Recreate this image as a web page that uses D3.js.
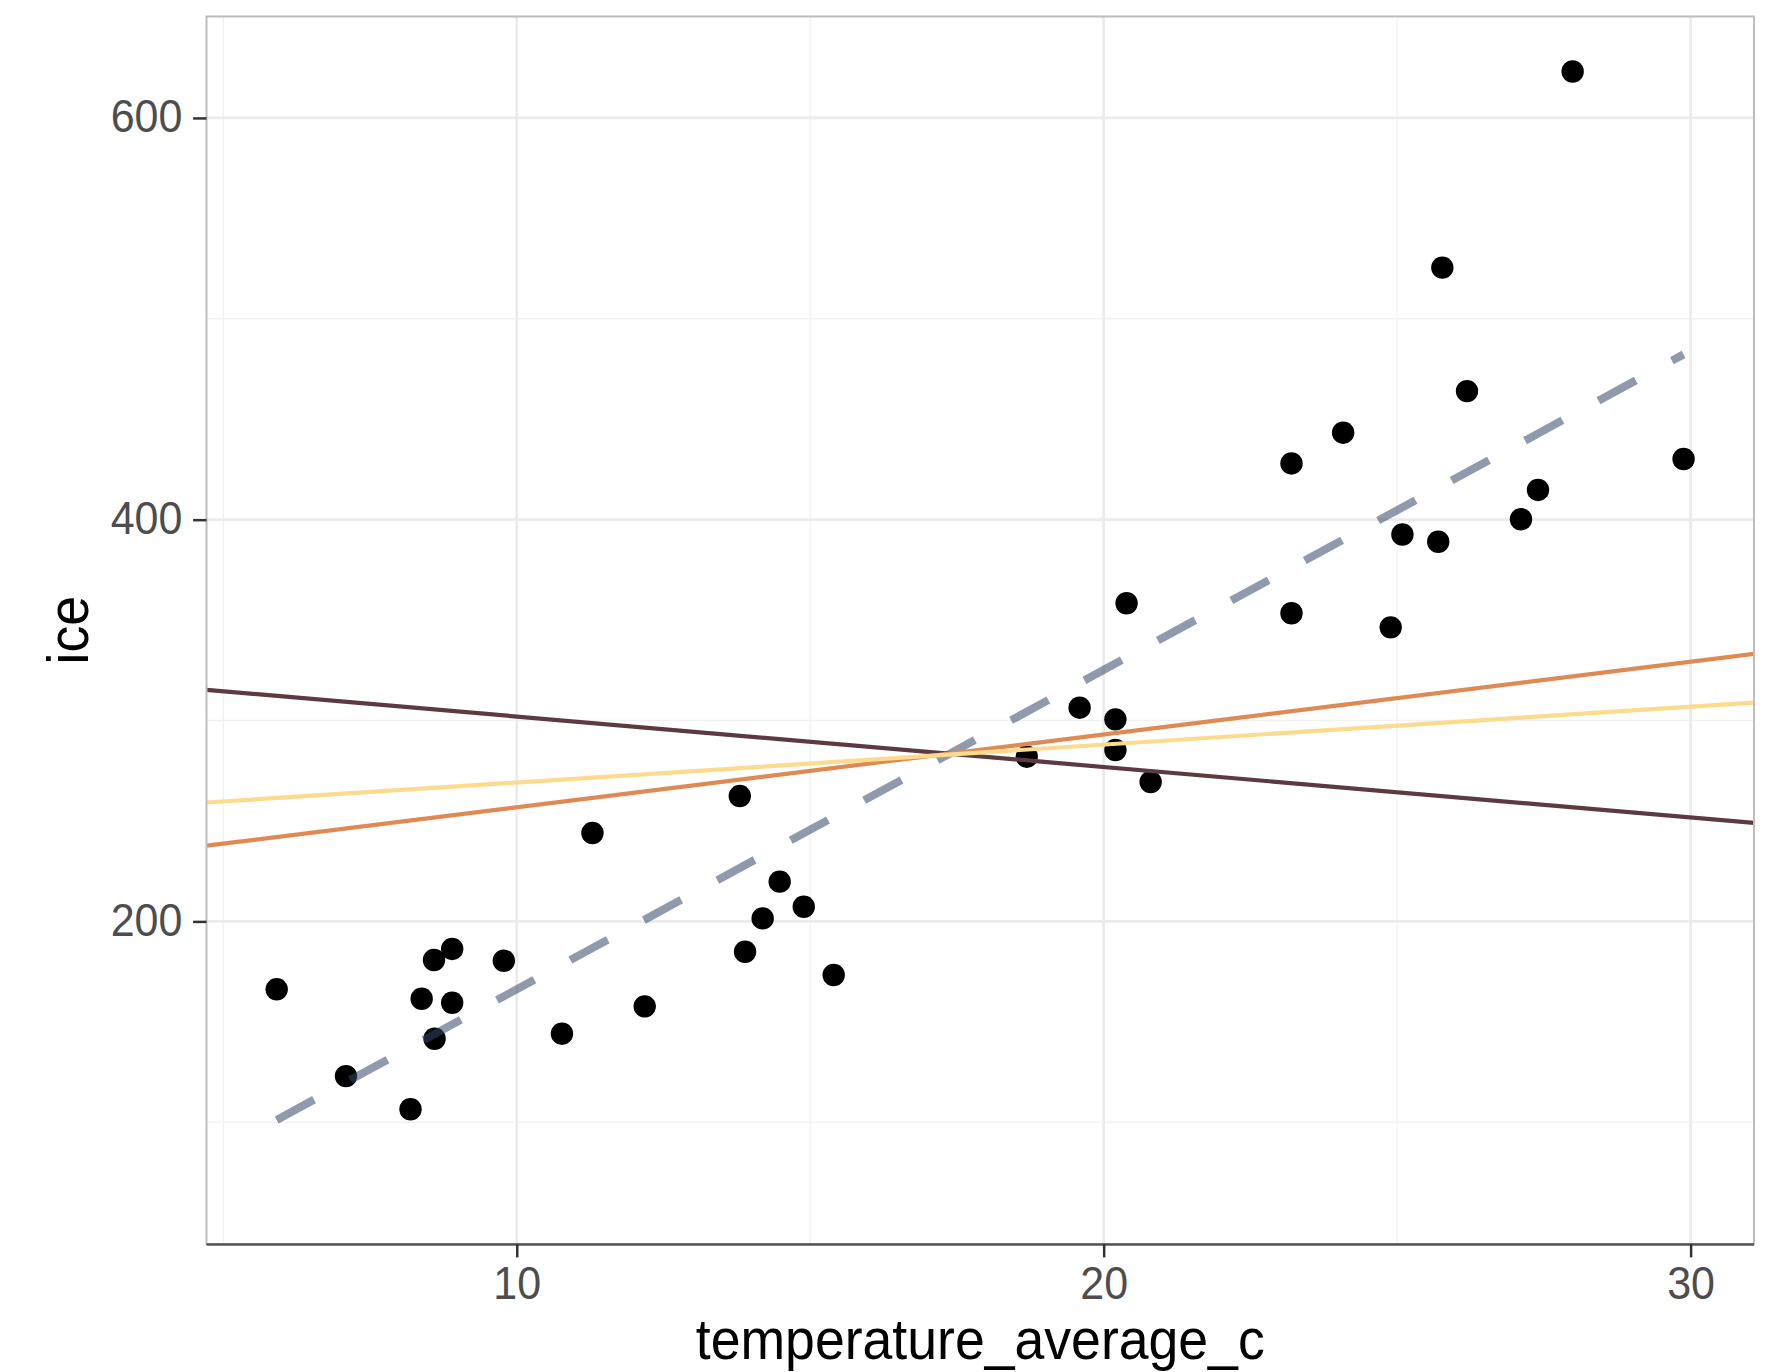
<!DOCTYPE html>
<html>
<head>
<meta charset="utf-8">
<script src="https://cdn.jsdelivr.net/npm/d3@7"></script>
<style>
  html, body { margin: 0; padding: 0; background: #ffffff; }
  svg { display: block; }
  text { font-family: "Liberation Sans", Arial, Helvetica, sans-serif; }
</style>
</head>
<body>
<svg id="chart" width="1777" height="1372"></svg>
<script>
// ---------------- data ----------------
const temperature = [5.91, 7.09, 8.19, 8.38, 8.59, 8.90, 8.90, 8.60, 9.78, 10.77,
  11.29, 12.18, 13.80, 13.89, 14.19, 14.48, 14.89, 15.40,
  18.69, 19.59, 20.20, 20.20, 20.39, 20.80,
  23.20, 23.20, 24.08, 24.89, 25.09, 25.70, 25.77, 26.19, 27.11, 27.40, 27.99, 29.88];
const ice = [166.2, 123.0, 106.5, 161.5, 180.8, 186.3, 159.5, 141.6, 180.4, 144.1,
  244.0, 157.7, 262.4, 184.9, 201.5, 219.8, 207.3, 173.3,
  282.0, 306.4, 300.6, 285.3, 358.4, 269.4,
  428.0, 353.4, 443.3, 346.4, 392.6, 389.0, 525.5, 464.0, 400.2, 414.8, 623.1, 430.2];

// straight reference lines (intercept, slope)
const lineNames = ["brown", "orange", "yellow"];
const lineIntercepts = [327.1, 220.65, 250.3];
const lineSlopes = [-2.512, 3.620, 1.886];

// fitted (dashed) line
const smoothIntercept = 7.2;
const smoothSlope = 15.9;

const xTicks = [10, 20, 30];
const xMinor = [5, 15, 25];
const yTicks = [200, 400, 600];
const yMinor = [100, 300, 500];
const xDomain = [4.714, 31.08];
const yDomain = [39.4, 650.5];
const xTitle = "temperature_average_c";
const yTitle = "ice";

// ---------------- styles ----------------
const lineColors = { brown: "#5C3A3F", orange: "#DF8A52", yellow: "#FDDB8E" };
const TEXT_STRETCH = 1.08;

const svg = d3.select("#chart");
const P = { left: 206.5, right: 1754, top: 16.5, bottom: 1244 };

const x = d3.scaleLinear().domain(xDomain).range([P.left, P.right]);
const y = d3.scaleLinear().domain(yDomain).range([P.bottom, P.top]);

svg.append("rect").attr("width", 1777).attr("height", 1372).attr("fill", "#fff");

svg.append("clipPath").attr("id", "clip")
  .append("rect").attr("x", P.left).attr("y", P.top)
  .attr("width", P.right - P.left).attr("height", P.bottom - P.top);

const grid = svg.append("g");
grid.selectAll(".vminor").data(xMinor).join("line")
  .attr("x1", d => x(d)).attr("x2", d => x(d)).attr("y1", P.top).attr("y2", P.bottom)
  .attr("stroke", "#F2F2F2").attr("stroke-width", 1.4);
grid.selectAll(".hminor").data(yMinor).join("line")
  .attr("y1", d => y(d)).attr("y2", d => y(d)).attr("x1", P.left).attr("x2", P.right)
  .attr("stroke", "#F2F2F2").attr("stroke-width", 1.4);
grid.selectAll(".vmajor").data(xTicks).join("line")
  .attr("x1", d => x(d)).attr("x2", d => x(d)).attr("y1", P.top).attr("y2", P.bottom)
  .attr("stroke", "#EBEBEB").attr("stroke-width", 2.7);
grid.selectAll(".hmajor").data(yTicks).join("line")
  .attr("y1", d => y(d)).attr("y2", d => y(d)).attr("x1", P.left).attr("x2", P.right)
  .attr("stroke", "#EBEBEB").attr("stroke-width", 2.7);

const plot = svg.append("g").attr("clip-path", "url(#clip)");

// points
plot.selectAll("circle").data(temperature.map((t, i) => [t, ice[i]])).join("circle")
  .attr("cx", d => x(d[0])).attr("cy", d => y(d[1])).attr("r", 11.2)
  .attr("fill", "#000");

// dashed fitted line over data range
const xr = d3.extent(temperature);
plot.append("line")
  .attr("x1", x(xr[0])).attr("y1", y(smoothIntercept + smoothSlope * xr[0]))
  .attr("x2", x(xr[1])).attr("y2", y(smoothIntercept + smoothSlope * xr[1]))
  .attr("stroke", "#34476A").attr("stroke-opacity", 0.55)
  .attr("stroke-width", 8).attr("stroke-dasharray", "42.5 41.1")
  .attr("stroke-linecap", "butt");

// reference lines across full panel
lineNames.forEach((n, i) => {
  plot.append("line")
    .attr("x1", x(xDomain[0])).attr("y1", y(lineIntercepts[i] + lineSlopes[i] * xDomain[0]))
    .attr("x2", x(xDomain[1])).attr("y2", y(lineIntercepts[i] + lineSlopes[i] * xDomain[1]))
    .attr("stroke", lineColors[n]).attr("stroke-width", 4.2);
});

// panel border
svg.append("rect").attr("x", P.left).attr("y", P.top)
  .attr("width", P.right - P.left).attr("height", P.bottom - P.top)
  .attr("fill", "none").attr("stroke", "#BDBDBD").attr("stroke-width", 2);
svg.append("line").attr("x1", P.left).attr("x2", P.right).attr("y1", P.bottom + 0.5).attr("y2", P.bottom + 0.5)
  .attr("stroke", "#555").attr("stroke-width", 2.5);

// axes
const FS_TICK = 43;
const xAxis = svg.append("g").attr("transform", `translate(0,${P.bottom})`)
  .call(d3.axisBottom(x).tickValues(xTicks).tickFormat(d3.format("d")).tickSize(13.4).tickPadding(10.7));
const yAxis = svg.append("g").attr("transform", `translate(${P.left},0)`)
  .call(d3.axisLeft(y).tickValues(yTicks).tickFormat(d3.format("d")).tickSize(13.4).tickPadding(10.7));
[xAxis, yAxis].forEach(a => {
  a.select(".domain").remove();
  a.selectAll(".tick line").attr("stroke", "#333").attr("stroke-width", 2.5);
  a.selectAll(".tick text").attr("fill", "#4D4D4D").attr("font-size", FS_TICK)
    .attr("font-family", "'Liberation Sans', Arial, sans-serif");
});
// slight vertical stretch of tick labels around their baseline
xAxis.selectAll(".tick text").each(function () {
  const t = d3.select(this);
  const by = +t.attr("y") + 0.71 * FS_TICK;
  t.attr("transform", `translate(0,${by}) scale(1,${TEXT_STRETCH}) translate(0,${-by})`);
});
yAxis.selectAll(".tick text").each(function () {
  const t = d3.select(this);
  const by = 0.32 * FS_TICK;
  t.attr("transform", `translate(0,${by}) scale(1,${TEXT_STRETCH}) translate(0,${-by})`);
});

// titles
svg.append("text")
  .attr("transform", `translate(${(P.left + P.right) / 2},1359) scale(1,${TEXT_STRETCH})`)
  .attr("text-anchor", "middle").attr("font-size", 53.6).attr("fill", "#000").text(xTitle);
svg.append("text").attr("transform", `translate(88,${(P.top + P.bottom) / 2}) rotate(-90) scale(1,${TEXT_STRETCH})`)
  .attr("text-anchor", "middle").attr("font-size", 53.6).attr("fill", "#000").text(yTitle);
</script>
</body>
</html>
